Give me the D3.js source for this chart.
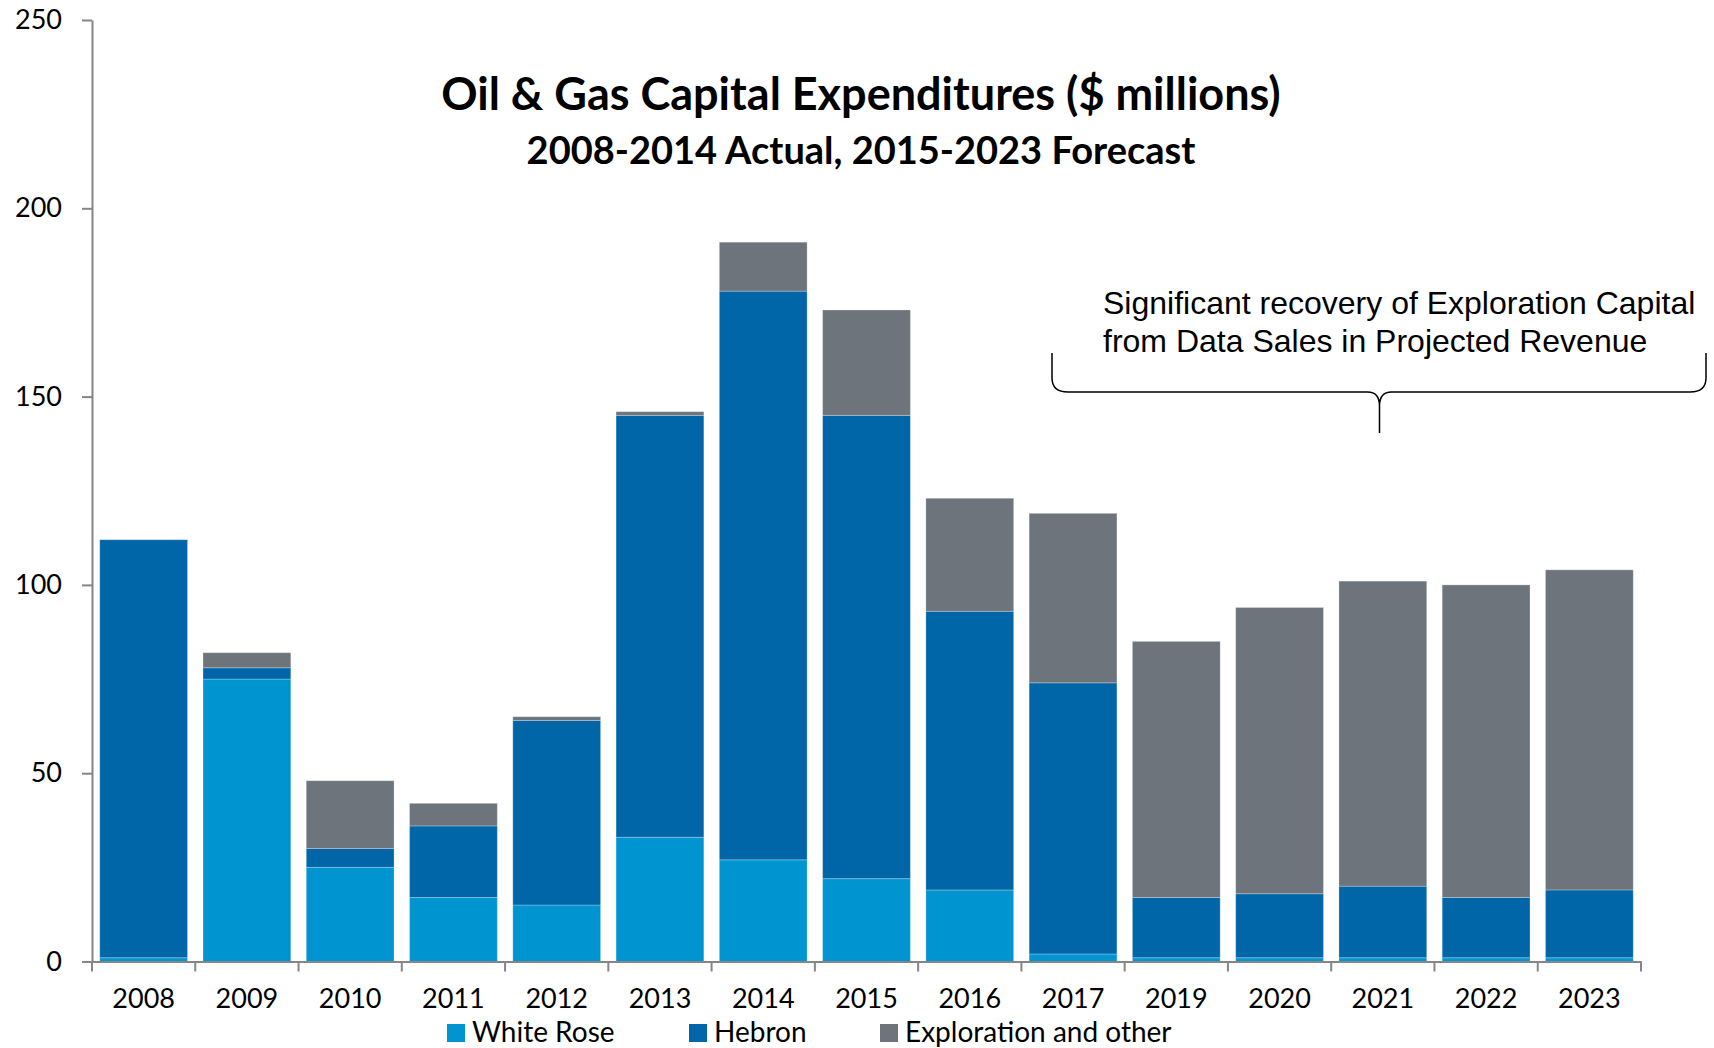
<!DOCTYPE html>
<html>
<head>
<meta charset="utf-8">
<script src="https://cdn.jsdelivr.net/npm/d3@7/dist/d3.min.js"></script>
<style>
  html, body { margin: 0; padding: 0; background: #ffffff; }
  svg { display: block; }
</style>
</head>
<body>
<svg id="chart" width="1714" height="1048"></svg>
<script>
// Years on the category axis (2018 is not reported)
const years = ["2008","2009","2010","2011","2012","2013","2014","2015","2016","2017","2019","2020","2021","2022","2023"];

// Capital expenditures by project, $ millions
const whiteRose   = [1, 75, 25, 17, 15, 33, 27, 22, 19, 2, 1, 1, 1, 1, 1];
const hebron      = [111, 3, 5, 19, 49, 112, 151, 123, 74, 72, 16, 17, 19, 16, 18];
const exploration = [0, 4, 18, 6, 1, 1, 13, 28, 30, 45, 68, 76, 81, 83, 85];

const seriesNames = ["White Rose", "Hebron", "Exploration and other"];
const seriesColors = ["#0095d0", "#0066a8", "#6d747c"];
const yTicks = [0, 50, 100, 150, 200, 250];

const titleLine1 = "Oil & Gas Capital Expenditures ($ millions)";
const titleLine2 = "2008-2014 Actual, 2015-2023 Forecast";
const noteLines = ["Significant recovery of Exploration Capital", "from Data Sales in Projected Revenue"];

(function () {
  const svg = d3.select("#chart");
  const fontBody = "Lato, 'Open Sans', sans-serif";

  // Plot area
  const plotLeft = 92, plotRight = 1641, plotTop = 20, plotBottom = 961.5;

  const x = d3.scaleBand().domain(years).range([plotLeft, plotRight]).paddingInner(0.15).paddingOuter(0.075);
  const y = d3.scaleLinear().domain([0, 250]).range([plotBottom, plotTop]);

  // Stack the three series per year
  const rows = years.map((yr, i) => ({
    year: yr,
    "White Rose": whiteRose[i],
    "Hebron": hebron[i],
    "Exploration and other": exploration[i]
  }));
  const stacked = d3.stack().keys(seriesNames)(rows);
  const color = d3.scaleOrdinal().domain(seriesNames).range(seriesColors);

  svg.append("g")
    .selectAll("g")
    .data(stacked)
    .join("g")
    .attr("fill", d => color(d.key))
    .selectAll("rect")
    .data(d => d.filter(s => s[1] - s[0] > 0))
    .join("rect")
    .attr("x", d => x(d.data.year))
    .attr("width", x.bandwidth())
    .attr("y", d => y(d[1]))
    .attr("height", d => y(d[0]) - y(d[1]))
    .attr("stroke", "rgba(255,255,255,0.25)")
    .attr("stroke-width", 1);

  const axisColor = "#868686";

  // Y axis
  const yAxis = svg.append("g")
    .attr("transform", `translate(${plotLeft},0)`)
    .call(d3.axisLeft(y).tickValues(yTicks).tickSize(10).tickPadding(20).tickSizeOuter(0));
  yAxis.select(".domain").attr("stroke", axisColor).attr("stroke-width", 2);
  yAxis.selectAll(".tick line").attr("stroke", axisColor).attr("stroke-width", 2);
  yAxis.selectAll(".tick text")
    .attr("fill", "#000")
    .style("font-family", fontBody)
    .style("font-size", "27px");

  // X axis: labels centred under bars, ticks at category boundaries
  const xAxis = svg.append("g")
    .attr("transform", `translate(0,${plotBottom})`)
    .call(d3.axisBottom(x).tickSize(0).tickPadding(27).tickSizeOuter(0));
  xAxis.select(".domain").attr("stroke", axisColor).attr("stroke-width", 2);
  xAxis.selectAll(".tick text")
    .attr("fill", "#000")
    .style("font-family", fontBody)
    .style("font-size", "27px");

  const step = x.step();
  const edges = d3.range(years.length + 1).map(i => x.range()[0] + i * step);
  xAxis.append("g")
    .selectAll("line")
    .data(edges)
    .join("line")
    .attr("x1", d => d).attr("x2", d => d)
    .attr("y1", 0).attr("y2", 10)
    .attr("stroke", axisColor)
    .attr("stroke-width", 2);

  // Title block
  const midX = 861;
  svg.append("text")
    .attr("x", midX).attr("y", 110)
    .attr("text-anchor", "middle")
    .style("font-family", fontBody)
    .style("font-weight", "bold")
    .style("font-size", "45px")
    .text(titleLine1);
  svg.append("text")
    .attr("x", midX).attr("y", 164)
    .attr("text-anchor", "middle")
    .style("font-family", fontBody)
    .style("font-weight", "bold")
    .style("font-size", "38px")
    .text(titleLine2);

  // Annotation over the forecast years
  const note = svg.append("text")
    .style("font-family", "'Liberation Sans', Arial, sans-serif")
    .style("font-size", "32px")
    .attr("fill", "#000");
  noteLines.forEach((line, i) => {
    note.append("tspan").attr("x", 1103).attr("y", 314 + i * 38).text(line);
  });

  // Curly brace under the annotation
  const bL = 1052, bR = 1706, bTop = 353, bMid = 392, bTip = 433, bC = 1379.5;
  const brace = d3.path();
  brace.moveTo(bL, bTop);
  brace.lineTo(bL, bMid - 14);
  brace.quadraticCurveTo(bL, bMid, bL + 16, bMid);
  brace.lineTo(bC - 12, bMid);
  brace.quadraticCurveTo(bC, bMid, bC, bMid + 14);
  brace.lineTo(bC, bTip);
  brace.moveTo(bC, bMid + 14);
  brace.quadraticCurveTo(bC, bMid, bC + 12, bMid);
  brace.lineTo(bR - 16, bMid);
  brace.quadraticCurveTo(bR, bMid, bR, bMid - 14);
  brace.lineTo(bR, bTop);
  svg.append("path")
    .attr("d", brace.toString())
    .attr("fill", "none")
    .attr("stroke", "#000")
    .attr("stroke-width", 1.5);

  // Legend
  const legendX = [447, 689, 880];
  const legend = svg.append("g");
  seriesNames.forEach((name, i) => {
    legend.append("rect")
      .attr("x", legendX[i]).attr("y", 1024)
      .attr("width", 18).attr("height", 18)
      .attr("fill", seriesColors[i]);
    legend.append("text")
      .attr("x", legendX[i] + 25).attr("y", 1041.5)
      .style("font-family", fontBody)
      .style("font-size", "28px")
      .text(name);
  });
})();
</script>
</body>
</html>
